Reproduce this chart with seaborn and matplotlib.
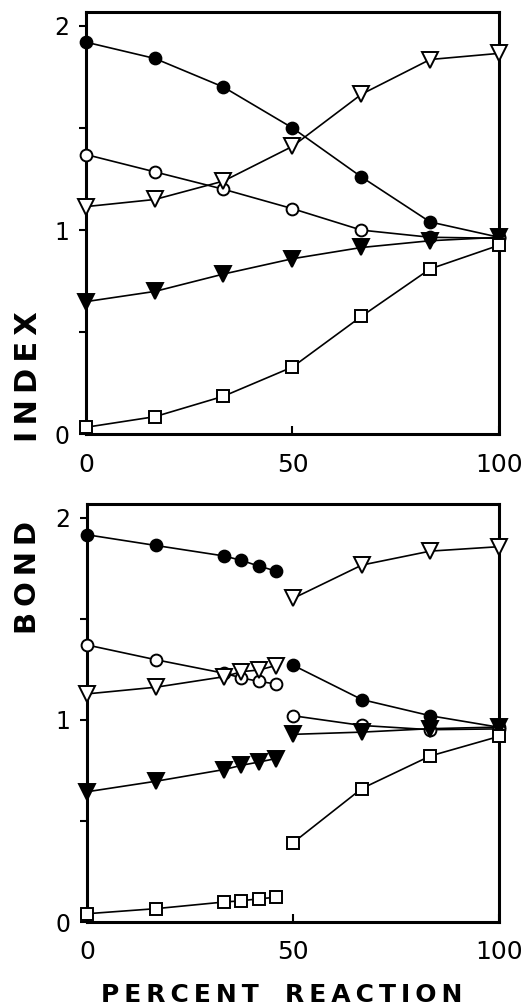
import numpy as np
import matplotlib
matplotlib.use("Agg")
import matplotlib.pyplot as plt
import seaborn as sns

# percent reaction positions
x_top = [0, 16.7, 33.3, 50, 66.7, 83.3, 100]
x_early = [0, 16.7, 33.3, 37.5, 41.7, 45.8]
x_late = [50, 66.7, 83.3, 100]

# upper panel: index
idx_filled_circle = [1.92, 1.84, 1.70, 1.50, 1.26, 1.04, 0.965]
idx_open_circle = [1.37, 1.285, 1.20, 1.105, 1.00, 0.965, 0.96]
idx_open_tri = [1.115, 1.15, 1.24, 1.41, 1.665, 1.835, 1.865]
idx_filled_tri = [0.65, 0.70, 0.785, 0.86, 0.915, 0.948, 0.965]
idx_square = [0.035, 0.087, 0.187, 0.33, 0.578, 0.81, 0.926]

# lower panel: bond (two branches)
bond_filled_circle_a = [1.915, 1.862, 1.81, 1.788, 1.76, 1.736]
bond_filled_circle_b = [1.27, 1.10, 1.02, 0.963]
bond_open_circle_a = [1.37, 1.297, 1.23, 1.207, 1.19, 1.177]
bond_open_circle_b = [1.02, 0.972, 0.951, 0.955]
bond_open_tri_a = [1.128, 1.161, 1.213, 1.238, 1.246, 1.268]
bond_open_tri_b = [1.60, 1.765, 1.834, 1.856]
bond_filled_tri_a = [0.644, 0.696, 0.754, 0.775, 0.791, 0.808]
bond_filled_tri_b = [0.928, 0.939, 0.956, 0.964]
bond_square_a = [0.041, 0.066, 0.099, 0.105, 0.115, 0.122]
bond_square_b = [0.392, 0.66, 0.821, 0.918]

sns.set_style("ticks")
plt.rcParams['font.family'] = ['DejaVu Sans']
plt.rcParams.update({'text.color': 'black', 'axes.edgecolor': 'black',
                     'xtick.color': 'black', 'ytick.color': 'black',
                     'axes.labelcolor': 'black'})

# marker styles: (marker, face, size)
styles = {
    'filled_circle': ('o', 'black', 8.5),
    'open_circle': ('o', 'white', 8.5),
    'open_tri': ('v', 'white', 11),
    'filled_tri': ('v', 'black', 11),
    'square': ('s', 'white', 8.5),
}


def draw(ax, x, y, kind):
    m, face, size = styles[kind]
    sns.lineplot(x=x, y=y, ax=ax, color='black', lw=1.2, marker=m,
                 markersize=size, markerfacecolor=face,
                 markeredgecolor='black', markeredgewidth=1.4,
                 clip_on=False, zorder=3)


def style_axes(ax):
    ax.set_xlim(0, 100)
    ax.set_ylim(0, 2.067)
    ax.set_xticks([0, 50, 100])
    ax.set_xticklabels(['0', '50', '100'])
    ax.set_yticks([0, 0.5, 1, 1.5, 2])
    ax.set_yticklabels(['0', '', '1', '', '2'])
    ax.tick_params(axis='x', direction='in', length=6, width=1.5,
                   pad=13, labelsize=18)
    ax.tick_params(axis='y', direction='out', length=5, width=1.5,
                   pad=7, labelsize=17)
    for s in ax.spines.values():
        s.set_visible(True)
        s.set_linewidth(2.2)
    ax.set_xlabel('')
    ax.set_ylabel('')


fig = plt.figure(figsize=(5.27, 10.08), dpi=100)
ax1 = fig.add_axes([0.163, 0.569, 0.784, 0.419])
ax2 = fig.add_axes([0.165, 0.0853, 0.782, 0.4147])

draw(ax1, x_top, idx_filled_circle, 'filled_circle')
draw(ax1, x_top, idx_open_circle, 'open_circle')
draw(ax1, x_top, idx_open_tri, 'open_tri')
draw(ax1, x_top, idx_filled_tri, 'filled_tri')
draw(ax1, x_top, idx_square, 'square')

for xs, a, b, c, d, e in [
    (x_early, bond_filled_circle_a, bond_open_circle_a, bond_open_tri_a,
     bond_filled_tri_a, bond_square_a),
    (x_late, bond_filled_circle_b, bond_open_circle_b, bond_open_tri_b,
     bond_filled_tri_b, bond_square_b),
]:
    draw(ax2, xs, a, 'filled_circle')
    draw(ax2, xs, b, 'open_circle')
    draw(ax2, xs, c, 'open_tri')
    draw(ax2, xs, d, 'filled_tri')
    draw(ax2, xs, e, 'square')

style_axes(ax1)
style_axes(ax2)

thin = '\u2009'
fig.text(0.054, 1 - 377 / 1008, thin.join('INDEX'), rotation=90,
         fontsize=22, fontweight='bold', ha='center', va='center')
fig.text(0.054, 1 - 577 / 1008, thin.join('BOND'), rotation=90,
         fontsize=21, fontweight='bold', ha='center', va='center')
fig.text(0.535, 1 - 995 / 1008,
         thin.join('PERCENT') + '   ' + thin.join('REACTION'),
         fontsize=18, fontweight='bold', ha='center', va='center')

fig.savefig('out.png', dpi=100)
